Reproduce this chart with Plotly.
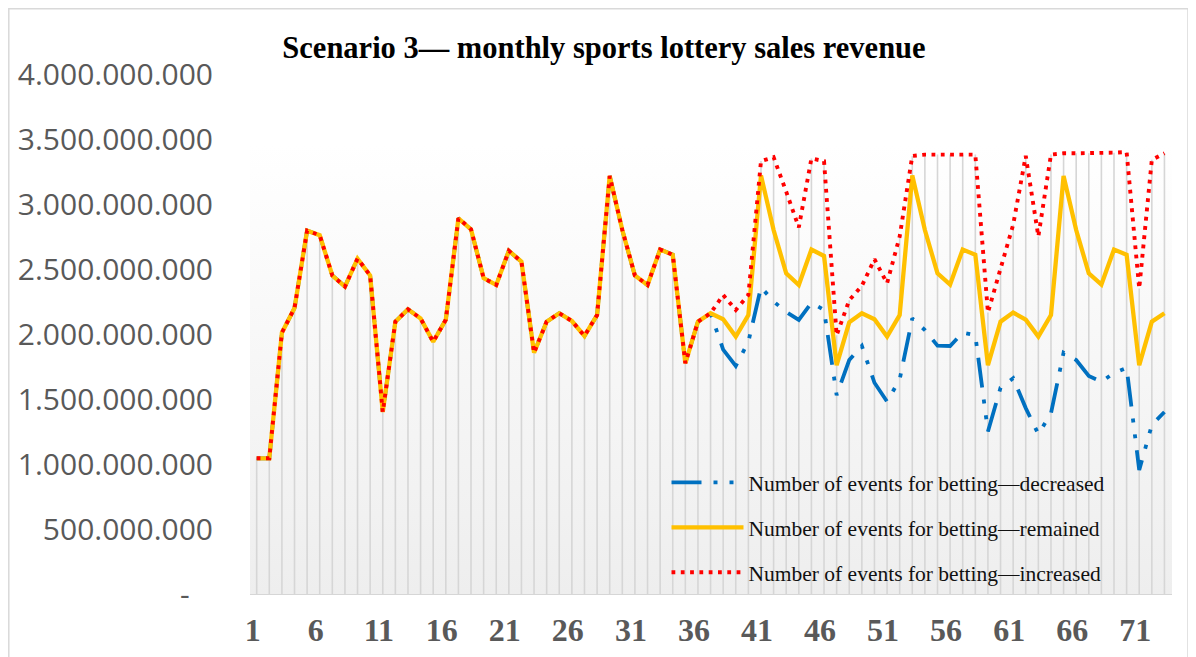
import plotly.graph_objects as go

# ---------------- data (values in billions) ----------------
months = list(range(1, 74))

# months 1-37: identical for all three scenarios
shared = [1.044, 1.044, 2.01, 2.20, 2.795, 2.76, 2.45, 2.365, 2.58, 2.45,
          1.40, 2.095, 2.19, 2.12, 1.94, 2.11, 2.89, 2.805, 2.43, 2.377,
          2.64, 2.556, 1.856, 2.095, 2.16, 2.10, 1.985, 2.146, 3.215, 2.80,
          2.45, 2.377, 2.65, 2.61, 1.775, 2.095, 2.16]

# months 38-73
decreased_tail = [1.88, 1.754, 1.94, 2.36, 2.25, 2.17, 2.108, 2.24, 2.185, 1.53,
                  1.80, 1.908, 1.625, 1.48, 1.65, 2.12, 2.03, 1.91, 1.908, 2.01,
                  1.99, 1.25, 1.587, 1.66, 1.43, 1.23, 1.39, 1.856, 1.80, 1.677,
                  1.633, 1.70, 1.74, 0.954, 1.30, 1.40]
remained_tail = [2.113, 1.98, 2.146, 3.22, 2.80, 2.467, 2.377, 2.65, 2.60, 1.76,
                 2.09, 2.16, 2.113, 1.98, 2.146, 3.22, 2.80, 2.467, 2.38, 2.65,
                 2.61, 1.76, 2.095, 2.165, 2.11, 1.98, 2.146, 3.215, 2.80, 2.467,
                 2.38, 2.65, 2.61, 1.76, 2.095, 2.16]
increased_tail = [2.30, 2.185, 2.30, 3.33, 3.36, 3.095, 2.82, 3.35, 3.33, 1.99,
                  2.26, 2.37, 2.575, 2.39, 2.75, 3.37, 3.38, 3.38, 3.38, 3.38,
                  3.38, 2.165, 2.505, 2.84, 3.37, 2.75, 3.38, 3.39, 3.39, 3.39,
                  3.39, 3.395, 3.40, 2.35, 3.34, 3.39]

series_names = ["Number of events for betting\u2014decreased",
                "Number of events for betting\u2014remained",
                "Number of events for betting\u2014increased"]

y_tick_values = [0, 500_000_000, 1_000_000_000, 1_500_000_000, 2_000_000_000,
                 2_500_000_000, 3_000_000_000, 3_500_000_000, 4_000_000_000]
y_tick_labels = ["-\u00a0\u00a0\u00a0", "500.000.000", "1.000.000.000", "1.500.000.000",
                 "2.000.000.000", "2.500.000.000", "3.000.000.000",
                 "3.500.000.000", "4.000.000.000"]
x_tick_values = [1, 6, 11, 16, 21, 26, 31, 36, 41, 46, 51, 56, 61, 66, 71]

BILLION = 1e9
decreased = [v * BILLION for v in shared + decreased_tail]
remained = [v * BILLION for v in shared + remained_tail]
increased = [v * BILLION for v in shared + increased_tail]

# ---------------- style ----------------
# the page body adds an 8px offset, so the figure is 8px smaller than the window
FIG_W, FIG_H = 1188, 649
M_L, M_R, M_T, M_B = 242, 24, 66, 63
PLOT_W = FIG_W - M_L - M_R
PLOT_H = FIG_H - M_T - M_B
X_RANGE = [0.47, 73.6]
BG_TOP = 3.46e9
GRAY_TEXT = "#595959"

fig = go.Figure()

# plot-area gradient background
fig.add_trace(go.Scatter(
    x=[X_RANGE[0], X_RANGE[1], X_RANGE[1], X_RANGE[0], X_RANGE[0]],
    y=[0, 0, BG_TOP, BG_TOP, 0],
    mode="lines", line=dict(width=0), fill="toself",
    fillgradient=dict(type="vertical", start=0, stop=BG_TOP,
                      colorscale=[[0, "#EEEEEE"], [1, "#FFFFFF"]]),
    hoverinfo="skip", showlegend=False))

# drop lines (from the highest point of each month down to the axis)
drop_x, drop_y = [], []
for m, a, b, c in zip(months, decreased, remained, increased):
    drop_x += [m, m, None]
    drop_y += [0, max(a, b, c), None]
fig.add_trace(go.Scatter(x=drop_x, y=drop_y, mode="lines",
                         line=dict(color="#D6D6D6", width=1.6),
                         hoverinfo="skip", showlegend=False))

fig.add_trace(go.Scatter(
    x=months, y=decreased, mode="lines", name=series_names[0], legendgroup="a",
    line=dict(color="#0070C0", width=3.8, dash="30px,12px,4px,12px,4px,12px")))
fig.add_trace(go.Scatter(
    x=months, y=remained, mode="lines", name=series_names[1], legendgroup="b",
    line=dict(color="#FFC000", width=4.3)))
fig.add_trace(go.Scatter(
    x=months, y=increased, mode="lines", name=series_names[2], legendgroup="c",
    line=dict(color="#FF0000", width=3.9, dash="3.8px,5.5px")))

fig.update_layout(
    width=FIG_W, height=FIG_H,
    margin=dict(l=M_L, r=M_R, t=M_T, b=M_B, autoexpand=False),
    paper_bgcolor="white", plot_bgcolor="rgba(0,0,0,0)",
    title=dict(text="<b>Scenario 3\u2014 monthly sports lottery sales revenue</b>",
               x=596 / FIG_W, xanchor="center", y=1 - 39 / FIG_H, yanchor="middle",
               font=dict(family="Liberation Serif", size=30.5, color="black")),
    xaxis=dict(range=X_RANGE, tickmode="array", tickvals=x_tick_values,
               showgrid=False, zeroline=False, showline=False, ticks="",
               tickfont=dict(family="Liberation Serif", size=32, color=GRAY_TEXT,
                             weight="bold"),
               ticklabelstandoff=14, ticklabelshift=-4),
    yaxis=dict(range=[0, 4e9], tickmode="array", tickvals=y_tick_values,
               ticktext=y_tick_labels, showgrid=False, zeroline=True,
               zerolinecolor="#D6D6D6", zerolinewidth=2, showline=False, ticks="",
               tickfont=dict(family="Open Sans", size=30, color=GRAY_TEXT),
               ticklabelstandoff=36),
    legend=dict(x=(672 - 5.5 - 250) / PLOT_W, y=0.254, xanchor="left", yanchor="top",
                bgcolor="rgba(0,0,0,0)", itemwidth=72, tracegroupgap=14,
                traceorder="grouped",
                font=dict(family="Liberation Serif", size=21.5, color="#111111")),
    shapes=[dict(type="rect", xref="paper", yref="paper",
                 x0=(0.8 - M_L) / PLOT_W, x1=(1180 - M_L) / PLOT_W,
                 y0=-(M_B + 10) / PLOT_H, y1=(PLOT_H + M_T - 0.8) / PLOT_H,
                 line=dict(color="#D9D9D9", width=1.5), layer="below")],
)

fig.write_html("out.html")
